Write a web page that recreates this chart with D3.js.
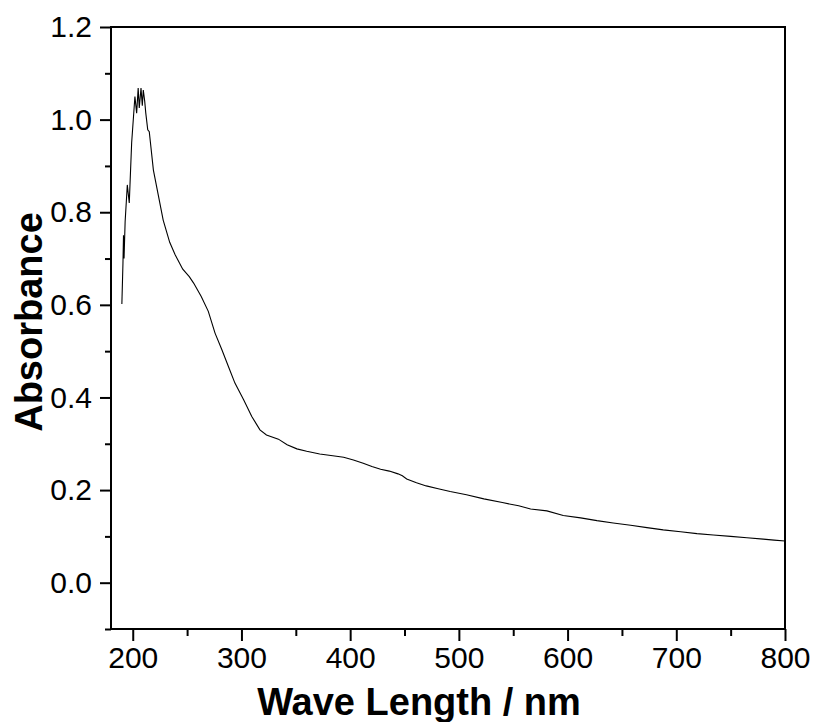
<!DOCTYPE html>
<html>
<head>
<meta charset="utf-8">
<script src="https://cdn.jsdelivr.net/npm/d3@7"></script>
<style>
  body { margin: 0; background: #fff; }
  text { font-family: Arial, "Liberation Sans", sans-serif; }
</style>
</head>
<body>
<svg id="chart"></svg>
<script>
// UV-Vis spectrum, values
var wavelength = [190, 191, 191.5, 192, 193, 195, 196.8, 199, 202, 203.6, 205, 206, 207.6, 208.8, 209.7, 211, 212, 213.8, 215.2,
  219, 223.5, 228, 234, 239, 246, 252, 256, 263, 269.5, 275.7, 282, 288, 294, 302, 309.5, 317, 323, 334, 342, 351,
  360, 372, 384, 394, 403, 412, 420, 428, 436, 444, 448, 452, 461, 470, 481, 492, 507, 523, 540, 555, 566, 581,
  596, 612, 627, 642, 658, 673, 688, 704, 719, 734, 750, 765, 780, 790, 800];
var absorbance = [0.602, 0.69, 0.75, 0.70, 0.78, 0.859, 0.82, 0.95, 1.05, 1.014, 1.068, 1.025, 1.068, 1.03, 1.064, 1.04, 1.014, 0.978, 0.974,
  0.891, 0.837, 0.783, 0.735, 0.708, 0.677, 0.661, 0.647, 0.618, 0.586, 0.539, 0.503, 0.467, 0.431, 0.395, 0.359, 0.330, 0.319, 0.310, 0.298, 0.289,
  0.284, 0.278, 0.274, 0.271, 0.265, 0.258, 0.251, 0.245, 0.241, 0.235, 0.231, 0.224, 0.216, 0.209, 0.203, 0.197, 0.190, 0.181, 0.173, 0.166, 0.159, 0.155,
  0.145, 0.140, 0.134, 0.129, 0.124, 0.119, 0.114, 0.110, 0.106, 0.103, 0.100, 0.097, 0.094, 0.092, 0.090];
var xMajor = [200, 300, 400, 500, 600, 700, 800];
var xMinor = [250, 350, 450, 550, 650, 750];
var yMajor = [0.0, 0.2, 0.4, 0.6, 0.8, 1.0, 1.2];
var yMinor = [-0.1, 0.1, 0.3, 0.5, 0.7, 0.9, 1.1];

var width = 816, height = 722;
var margin = {top: 27, right: 31, bottom: 93, left: 111};
var w = width - margin.left - margin.right;
var h = height - margin.top - margin.bottom;

var svg = d3.select("#chart").attr("width", width).attr("height", height);
var g = svg.append("g").attr("transform", "translate(" + margin.left + "," + margin.top + ")");

var x = d3.scaleLinear().domain([180, 800]).range([0, w]);
var y = d3.scaleLinear().domain([-0.1, 1.2]).range([h, 0]);

// frame
g.append("rect").attr("width", w).attr("height", h)
  .attr("fill", "none").attr("stroke", "#000").attr("stroke-width", 2);

// x axis
g.append("g").attr("transform", "translate(0," + h + ")")
  .call(d3.axisBottom(x).tickValues(xMajor).tickSize(12).tickPadding(6).tickFormat(d3.format("d")));
g.append("g").attr("transform", "translate(0," + h + ")")
  .call(d3.axisBottom(x).tickValues(xMinor).tickSize(7).tickFormat(""));

// y axis
g.append("g")
  .call(d3.axisLeft(y).tickValues(yMajor).tickSize(11).tickPadding(8).tickFormat(d3.format(".1f")));
g.append("g")
  .call(d3.axisLeft(y).tickValues(yMinor).tickSize(6).tickFormat(""));

g.selectAll(".domain").remove();
g.selectAll(".tick line").attr("stroke", "#000").attr("stroke-width", 2);
g.selectAll(".tick text").attr("font-size", 30).attr("fill", "#000")
  .style("font-family", "Arial, 'Liberation Sans', sans-serif");

// spectrum line
var line = d3.line().x(function(d, i) { return x(wavelength[i]); })
  .y(function(d) { return y(d); });
g.append("path").datum(absorbance)
  .attr("d", line)
  .attr("fill", "none").attr("stroke", "#000").attr("stroke-width", 1.1);

// titles
svg.append("text").attr("x", 419).attr("y", 715)
  .attr("text-anchor", "middle").attr("font-weight", "bold").attr("font-size", 38)
  .text("Wave Length / nm");
svg.append("text").attr("transform", "translate(42,322) rotate(-90)")
  .attr("text-anchor", "middle").attr("font-weight", "bold").attr("font-size", 38)
  .text("Absorbance");
</script>
</body>
</html>
